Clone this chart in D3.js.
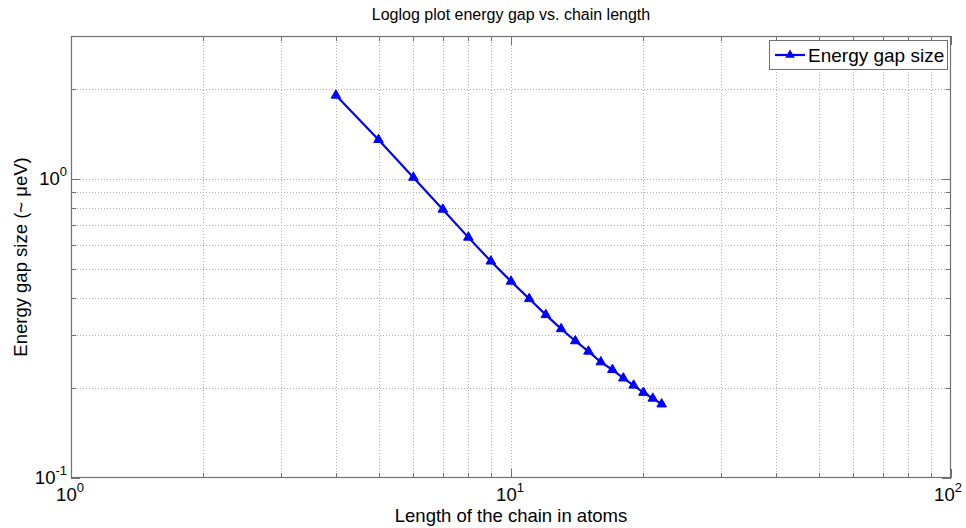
<!DOCTYPE html>
<html><head><meta charset="utf-8">
<script src="https://cdn.jsdelivr.net/npm/d3@7"></script>
<style>body{margin:0;background:#fff}svg{display:block}text{font-family:"Liberation Sans",Arial,sans-serif}</style>
</head><body><svg id="c" width="966" height="528"></svg>
<script>
const chainLength = [4,5,6,7,8,9,10,11,12,13,14,15,16,17,18,19,20,21,22];
const energyGap = [1.9,1.35,1.01,0.79,0.637,0.53,0.454,0.397,0.351,0.315,0.287,0.265,0.244,0.23,0.2155,0.204,0.193,0.1845,0.1765];
const xTicks = [1,10,100];
const yTicks = [0.1,1];
const xDomain = [1,100];
const yDomain = [0.1,3];

const svg = d3.select("#c");
const L=71,R=951,T=36,B=478;
const x = d3.scaleLog().domain(xDomain).range([L,R]);
const y = d3.scaleLog().domain(yDomain).range([B,T]);
svg.append("rect").attr("width",966).attr("height",528).attr("fill","#fff");

function minors(d){const out=[];for(let e=Math.floor(Math.log10(d[0]));e<=Math.ceil(Math.log10(d[1]));e++){for(let k=1;k<10;k++){const v=k*Math.pow(10,e);if(v>=d[0]*0.9999&&v<=d[1]*1.0001)out.push(v);}}return out;}
const xg = minors(xDomain), yg = minors(yDomain);
const grid = svg.append("g").attr("stroke","#b0b0b0").attr("stroke-width",1).attr("stroke-dasharray","1,2");
xg.forEach(v=>{const px=Math.round(x(v))+0.5; if(px>L+1&&px<R-1) grid.append("line").attr("x1",px).attr("x2",px).attr("y1",T).attr("y2",B);});
yg.forEach(v=>{const py=Math.round(y(v))+0.5; if(py>T+1&&py<B-1) grid.append("line").attr("x1",L).attr("x2",R).attr("y1",py).attr("y2",py);});

// ticks (inside, all four sides)
const tk = svg.append("g").attr("stroke","#707070").attr("stroke-width",1);
xg.forEach(v=>{const px=Math.round(x(v))+0.5; const len = xTicks.includes(v)?9:5;
  tk.append("line").attr("x1",px).attr("x2",px).attr("y1",B).attr("y2",B-len);
  tk.append("line").attr("x1",px).attr("x2",px).attr("y1",T).attr("y2",T+len);});
yg.forEach(v=>{const py=Math.round(y(v))+0.5; const len = yTicks.includes(v)?9:5;
  tk.append("line").attr("x1",L).attr("x2",L+len).attr("y1",py).attr("y2",py);
  tk.append("line").attr("x1",R).attr("x2",R-len).attr("y1",py).attr("y2",py);});
svg.append("rect").attr("x",L+0.5).attr("y",T+0.5).attr("width",R-L-1).attr("height",B-T-1)
  .attr("fill","none").attr("stroke","#707070").attr("stroke-width",1.2);

// tick labels
function pow10(g,v,xp,yp,anchor){
  const e=Math.round(Math.log10(v));
  const t=g.append("text").attr("x",xp).attr("y",yp).attr("text-anchor",anchor).attr("font-size",18.5).attr("fill","#000");
  t.append("tspan").text("10");
  t.append("tspan").attr("dy",-9).attr("font-size",13).text(String(e));
}
const lab = svg.append("g");
xTicks.forEach(v=>pow10(lab,v,Math.min(x(v)-1,948),501,"middle"));
yTicks.forEach(v=>pow10(lab,v,L-4,y(v)+6,"end"));

// series
const line = d3.line().x((d,i)=>x(chainLength[i])).y(d=>y(d));
svg.append("path").datum(energyGap).attr("d",line).attr("fill","none").attr("stroke","#0000ff").attr("stroke-width",2.2);
const tri = d3.symbol().type(d3.symbolTriangle).size(40);
svg.append("g").selectAll("path").data(energyGap).join("path")
  .attr("transform",(d,i)=>`translate(${x(chainLength[i])},${y(d)})`).attr("d",tri).attr("fill","#0000ff").attr("stroke","#0000ff");

// title & axis labels
svg.append("text").attr("x",511).attr("y",20).attr("text-anchor","middle").attr("font-size",16).text("Loglog plot energy gap vs. chain length");
svg.append("text").attr("x",511).attr("y",522).attr("text-anchor","middle").attr("font-size",18.5).text("Length of the chain in atoms");
svg.append("text").attr("transform","translate(27,257) rotate(-90)").attr("text-anchor","middle").attr("font-size",18.5).text("Energy gap size (~ μeV)");

// legend
const lg = svg.append("g");
lg.append("rect").attr("x",769.5).attr("y",40.5).attr("width",178).attr("height",29).attr("fill","#fff").attr("stroke","#707070");
lg.append("line").attr("x1",775).attr("x2",805).attr("y1",55).attr("y2",55).attr("stroke","#0000ff").attr("stroke-width",2.2);
lg.append("path").attr("transform","translate(790,55)").attr("d",tri).attr("fill","#0000ff");
lg.append("text").attr("x",808).attr("y",62).attr("font-size",19).text("Energy gap size");
</script></body></html>
